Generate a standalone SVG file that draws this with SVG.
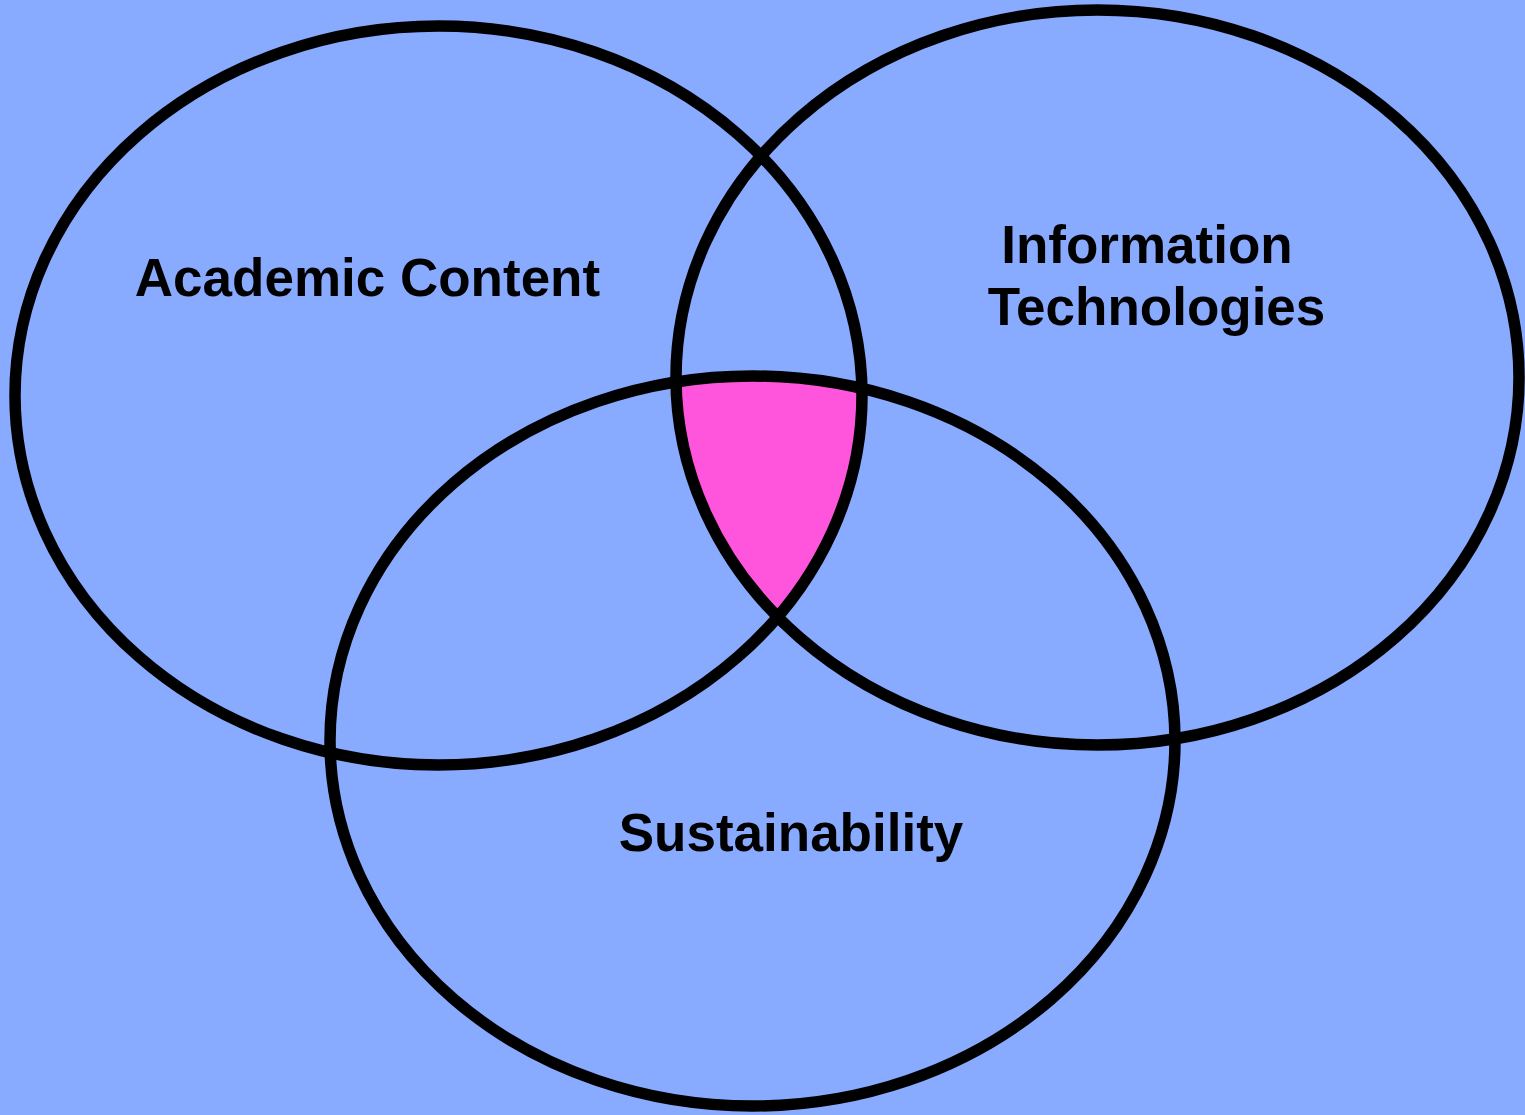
<svg xmlns="http://www.w3.org/2000/svg" width="1525" height="1115" viewBox="0 0 1525 1115">
<style>
.ring{fill:none;stroke:#000;stroke-width:11.5}
.lbl{font-family:"Liberation Sans",Arial,sans-serif;font-weight:bold;font-size:53px;fill:#000;text-anchor:middle}
</style>
<defs>
<clipPath id="c1"><ellipse cx="438.5" cy="395.5" rx="423.5" ry="369.5"/></clipPath>
<clipPath id="c2"><ellipse cx="1097.5" cy="377.5" rx="421.5" ry="367.5"/></clipPath>
</defs>
<rect width="1525" height="1115" fill="#88AAFF"/>
<g clip-path="url(#c1)"><g clip-path="url(#c2)"><ellipse cx="752.5" cy="741" rx="422.5" ry="365" fill="#FF55DD"/></g></g>
<g id="academic">
<ellipse class="ring" cx="438.5" cy="395.5" rx="423.5" ry="369.5"/>
<text class="lbl" x="367.5" y="296">Academic Content</text>
</g>
<g id="infotech">
<ellipse class="ring" cx="1097.5" cy="377.5" rx="421.5" ry="367.5"/>
<text class="lbl" x="1147" y="263">Information</text>
<text class="lbl" x="1156.5" y="325">Technologies</text>
</g>
<g id="sustain">
<ellipse class="ring" cx="752.5" cy="741" rx="422.5" ry="365"/>
<text class="lbl" x="791" y="851">Sustainability</text>
</g>
<g id="connectors"/>
</svg>
